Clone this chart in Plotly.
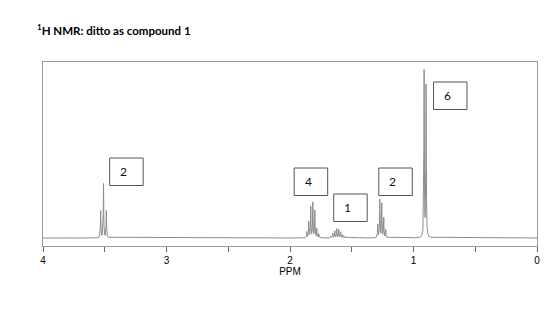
import numpy as np
import plotly.graph_objects as go

# Peak list (ppm, relative height)
peak_ppm = [3.533, 3.510, 3.487,
            1.864, 1.848, 1.832, 1.815, 1.799, 1.783, 1.767,
            1.669, 1.653, 1.637, 1.621, 1.605, 1.589, 1.573, 1.556,
            1.289, 1.273, 1.257, 1.241, 1.225,
            0.914, 0.898]
peak_height = [27, 54, 27,
               6, 16, 31, 35, 27, 9, 4,
               1.5, 4.5, 7, 9, 8.5, 6, 3, 1.5,
               13, 38, 34, 20, 8,
               166, 151]

# Integration labels (text, ppm of left edge, height of box top)
label_text = ["2", "4", "1", "2", "6"]
label_ppm = [3.46, 1.966, 1.646, 1.281, 0.838]
label_top = [80, 70, 44, 70, 156]

# Lorentzian line shape to render the spectrum trace
gamma = 0.0021
x = np.arange(0.0, 4.0 + 1e-9, 0.0002)
y = np.zeros_like(x)
for p, h in zip(peak_ppm, peak_height):
    y += h * gamma**2 / ((x - p) ** 2 + gamma**2)

fig = go.Figure()
fig.add_trace(go.Scatter(x=x, y=y, mode="lines",
                         line=dict(color="#8c8c8c", width=1),
                         hoverinfo="skip", showlegend=False))

px_per_ppm = 494.3 / 4.0
box_w = 33.5 / px_per_ppm
box_h = 27.5
for t, p, top in zip(label_text, label_ppm, label_top):
    fig.add_shape(type="rect", x0=p, x1=p - box_w, y0=top - box_h, y1=top,
                  line=dict(color="#555555", width=1), fillcolor="white")
    fig.add_annotation(x=p - 8.5 / px_per_ppm, y=top - box_h / 2, text=t,
                       showarrow=False, xanchor="left", yanchor="middle",
                       font=dict(family="Lato", size=12, color="#111111"))

fig.add_annotation(xref="paper", yref="paper", x=-0.012, y=1.0,
                   yshift=23, xshift=-2,
                   xanchor="left", yanchor="bottom",
                   text="<b><sup>1</sup>H NMR: ditto as compound 1</b>",
                   showarrow=False,
                   font=dict(family="Lato", size=11.5, color="black"))

fig.update_layout(
    width=560, height=310,
    margin=dict(l=43, r=23, t=62, b=64),
    plot_bgcolor="white", paper_bgcolor="white",
    xaxis=dict(range=[4, 0], tick0=0, dtick=1,
               ticks="outside", ticklen=5, tickcolor="#666666",
               minor=dict(dtick=0.5, tick0=0, ticks="outside", ticklen=5,
                          tickcolor="#666666", showgrid=False),
               showline=True, linecolor="#999999", linewidth=1, mirror=True,
               showgrid=False, zeroline=False,
               tickfont=dict(family="Liberation Sans", size=10, color="black"),
               title=dict(text="PPM", standoff=2,
                          font=dict(family="Liberation Sans", size=10, color="black"))),
    yaxis=dict(range=[-8, 176], showticklabels=False, ticks="",
               showline=True, linecolor="#999999", linewidth=1, mirror=True,
               showgrid=False, zeroline=False),
)

fig.write_html("out.html")
